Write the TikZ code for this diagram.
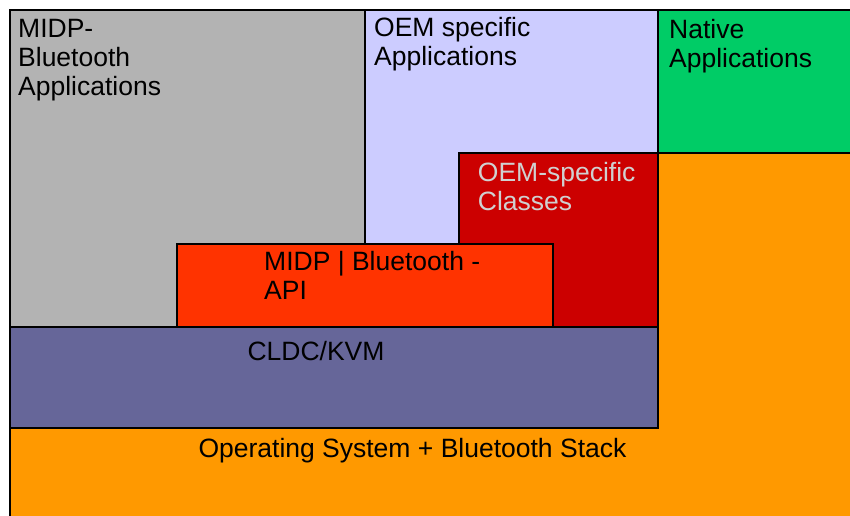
\documentclass[tikz,border=0pt]{standalone}
\usepackage{fontspec}
\setmainfont{Liberation Sans}
\usepackage{tikz}
\usetikzlibrary{positioning}
\definecolor{grau}{HTML}{B3B3B3}
\definecolor{lila}{HTML}{CCCCFF}
\definecolor{gruen}{HTML}{00CC66}
\definecolor{osgelb}{HTML}{FF9900}
\definecolor{dunkelrot}{HTML}{CC0000}
\definecolor{rotorange}{HTML}{FF3300}
\definecolor{blaugrau}{HTML}{666699}
\definecolor{hellgrau}{HTML}{D0D0D0}

\begin{document}
\begin{tikzpicture}[x=1pt,y=-1pt,
  schicht/.style={draw=black,line width=1.8pt},
  beschr/.style={anchor=north west,inner sep=0pt,align=left,font=\fontsize{26.5}{28.6}\selectfont}]
\useasboundingbox (0,0) rectangle (850,515);
%Schichten von unten nach oben, rechts und unten laufen sie aus dem Bild
\draw[schicht,fill=osgelb] (10,525) -- (10,428) -- (658,428) -- (658,153) -- (860,153) -- (860,525) -- cycle;
\draw[schicht,fill=grau] (10,10) rectangle (365,327);
\draw[schicht,fill=lila] (365,10) rectangle (658,327);
\draw[schicht,fill=gruen] (658,10) rectangle (860,153);
\draw[schicht,fill=dunkelrot] (459,153) rectangle (658,327);
\draw[schicht,fill=rotorange] (177,244) rectangle (553,327);
\draw[schicht,fill=blaugrau] (10,327) rectangle (658,428);
%Beschriftungen
\node[beschr] (midpapps) at (18,19.5) {MIDP-\\Bluetooth\\Applications};
\node[beschr] (oemapps) at (374,17.5) {OEM specific\\Applications};
\node[beschr] (native) at (669,19) {Native\\Applications};
\node[beschr,text=hellgrau] (oemclasses) at (477.7,162.5) {OEM-specific\\Classes};
\node[beschr] (api) at (264,251) {MIDP | Bluetooth -\\API};
\node[beschr] (cldc) at (247.3,341) {CLDC/KVM};
\node[beschr] (os) at (198.3,438) {Operating System + Bluetooth Stack};
\end{tikzpicture}
\end{document}
